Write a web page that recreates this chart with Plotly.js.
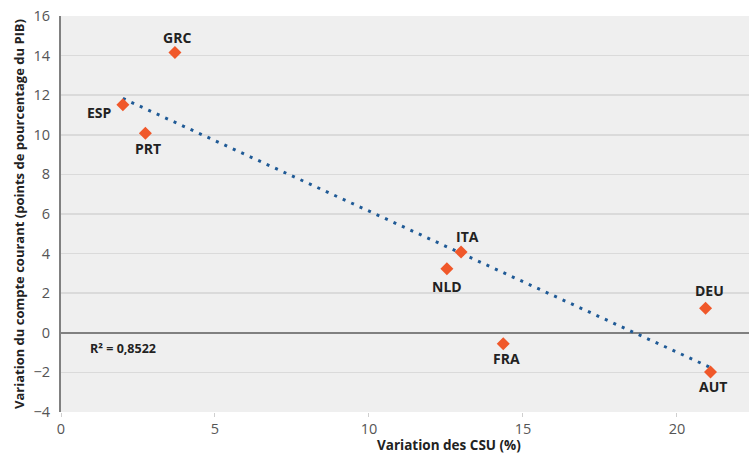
<!DOCTYPE html>
<html>
<head>
<meta charset="utf-8">
<script src="https://cdn.plot.ly/plotly-3.0.1.min.js"></script>
<style>html,body{margin:0;padding:0;background:#fff;}#chart{width:749px;height:454px;}</style>
</head>
<body>
<div id="chart"></div>
<script>
// Data
const countries = ["ESP", "GRC", "PRT", "ITA", "NLD", "FRA", "DEU", "AUT"];
const csuChange = [2.01, 3.70, 2.74, 12.99, 12.53, 14.36, 20.93, 21.09];
const currentAccountChange = [11.52, 14.16, 10.08, 4.08, 3.24, -0.55, 1.24, -1.98];
const r2Label = "R² = 0,8522";
const xTitle = "Variation des CSU (%)";
const yTitle = "Variation du compte courant (points de pourcentage du PIB)";

// Label placement (pixel offsets from each point)
const labelOffsets = {
  ESP: [-23, -8], GRC: [2, 15], PRT: [3, -15], ITA: [6, 16],
  NLD: [0, -18], FRA: [3, -15], DEU: [4, 18], AUT: [2, -14]
};

// Least-squares trend line computed from the data
const n = csuChange.length;
const mx = csuChange.reduce((a, b) => a + b, 0) / n;
const my = currentAccountChange.reduce((a, b) => a + b, 0) / n;
let sxy = 0, sxx = 0;
for (let i = 0; i < n; i++) {
  sxy += (csuChange[i] - mx) * (currentAccountChange[i] - my);
  sxx += (csuChange[i] - mx) ** 2;
}
const slope = sxy / sxx, intercept = my - slope * mx;
const xMin = Math.min(...csuChange), xMax = Math.max(...csuChange);
const trendX = [xMin, xMax];
const trendY = trendX.map(x => intercept + slope * x);

const FONT = "Open Sans, Noto Sans, sans-serif";

const traces = [
  {
    x: trendX, y: trendY, type: "scatter", mode: "lines",
    line: { color: "#1f5a96", width: 3, dash: "3px,6.3px" },
    hoverinfo: "skip", showlegend: false
  },
  {
    x: csuChange, y: currentAccountChange, type: "scatter", mode: "markers",
    marker: { symbol: "diamond", size: 10, color: "#f0582a" },
    text: countries, showlegend: false
  }
];

const annotations = countries.map((c, i) => ({
  x: csuChange[i], y: currentAccountChange[i], xref: "x", yref: "y",
  text: "<b>" + c + "</b>", showarrow: false,
  xshift: labelOffsets[c][0], yshift: labelOffsets[c][1],
  font: { family: FONT, size: 14, color: "#222" }
}));
annotations.push({
  x: (88 - 61) / 688, y: (412 - 348) / 396, xref: "paper", yref: "paper",
  text: "<b>" + r2Label + "</b>",
  showarrow: false, xanchor: "left", yanchor: "middle",
  font: { family: FONT, size: 12.5, color: "#222" }
});
annotations.push({
  text: "<b>" + xTitle + "</b>", showarrow: false,
  xref: "paper", yref: "paper", x: (449 - 61) / 688, y: -33 / 396,
  xanchor: "center", yanchor: "middle",
  font: { family: FONT, size: 13.5, color: "#222" }
});

const layout = {
  width: 749, height: 454,
  margin: { l: 61, r: 0, t: 16, b: 42, pad: 0 },
  paper_bgcolor: "#ffffff", plot_bgcolor: "#efefef",
  font: { family: FONT, color: "#555" },
  showlegend: false,
  xaxis: {
    range: [0, 22.34], tickvals: [0, 5, 10, 15, 20],
    showgrid: false, zeroline: false, showline: false,
    ticks: "outside", ticklen: 4, tickcolor: "#cfcfcf", tickwidth: 1,
    tickfont: { family: FONT, size: 14.5, color: "#555" }
  },
  yaxis: {
    range: [-4, 16], tickvals: [-4, -2, 0, 2, 4, 6, 8, 10, 12, 14, 16],
    showgrid: true, gridcolor: "#dadada", gridwidth: 1.5,
    zeroline: true, zerolinecolor: "#808080", zerolinewidth: 2,
    showline: true, linecolor: "#808080", linewidth: 2,
    ticks: "", ticklabelstandoff: 6,
    tickfont: { family: FONT, size: 14.5, color: "#555" },
    title: { text: "<b>" + yTitle + "</b>", font: { family: FONT, size: 13, color: "#222" }, standoff: 6 }
  },
  annotations: annotations
};

Plotly.newPlot("chart", traces, layout, { displayModeBar: false, staticPlot: true });
</script>
</body>
</html>
